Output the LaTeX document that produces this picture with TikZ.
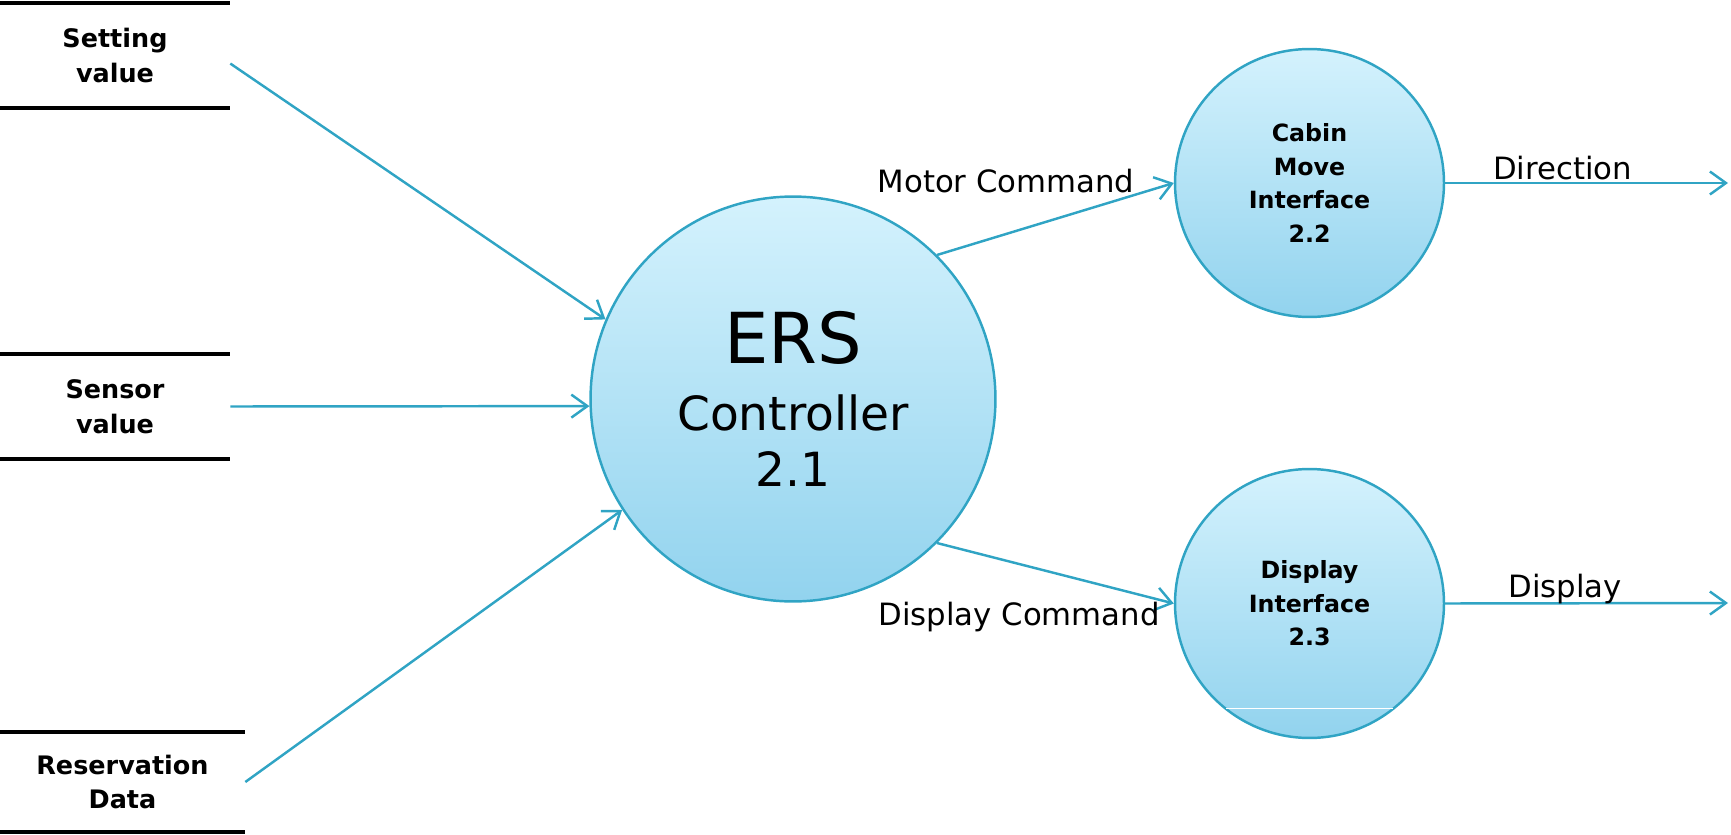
\documentclass[tikz,border=0pt]{standalone}
\usepackage{fontspec}
\setmainfont{DejaVu Sans}
\usetikzlibrary{arrows.meta,shapes.geometric}
\definecolor{flowblue}{RGB}{48,164,196}
\definecolor{proctop}{RGB}{212,242,253}
\definecolor{procbot}{RGB}{146,211,238}
\tikzset{
	proc/.style={ellipse, draw=flowblue, line width=1.4pt, top color=proctop, bottom color=procbot, inner sep=0pt, align=center},
	store/.style={inner sep=0pt, align=center, font=\fontsize{14.5}{19.9}\selectfont\bfseries},
	bar/.style={line width=2.3pt},
	flow/.style={draw=flowblue, line width=1.4pt, -{Straight Barb[length=0.32cm,width=0.46cm]}},
	flowlabel/.style={anchor=base, inner sep=0pt, font=\fontsize{17.5}{21}\selectfont}
}

\begin{document}
\begin{tikzpicture}[x=0.02cm, y=-0.02cm]
			%%%%% START %%%%%
			
			\useasboundingbox (0,0) rectangle (1731,835);
			
			\node[store, minimum width=4.6cm, minimum height=2.1cm] (setting) at (115,55.5) {Setting\\value};
			\draw[bar] (setting.north west) -- (setting.north east);
			\draw[bar] (setting.south west) -- (setting.south east);
			
			\node[store, minimum width=4.6cm, minimum height=2.1cm] (sensor) at (115,406.5) {Sensor\\value};
			\draw[bar] (sensor.north west) -- (sensor.north east);
			\draw[bar] (sensor.south west) -- (sensor.south east);
			
			\node[store, minimum width=4.9cm, minimum height=2.0cm] (resv) at (122.5,782) {Reservation\\Data};
			\draw[bar] (resv.north west) -- (resv.north east);
			\draw[bar] (resv.south west) -- (resv.south east);
			
			\node[proc, minimum width=8.1cm, minimum height=8.1cm, font=\fontsize{26.8}{32.4}\selectfont] (ers) at (793,399) {{\fontsize{40}{40}\selectfont ERS}\\[5.6pt]Controller\\2.1};
			\node[proc, minimum width=5.38cm, minimum height=5.36cm, font=\fontsize{13.5}{19}\selectfont\bfseries] (cabin) at (1309.5,183) {Cabin\\Move\\Interface\\2.2};
			\node[proc, minimum width=5.38cm, minimum height=5.38cm, font=\fontsize{13.5}{19}\selectfont\bfseries] (disp) at (1309.5,603.5) {Display\\Interface\\2.3};
			\draw[white, line width=0.5pt] (1226,708) -- (1393,708);
			
			\coordinate (dirEnd) at (1728,183);
			\coordinate (dispEnd) at (1728,603);
			
			\draw[flow] (setting.-4) -- (ers.157);
			\draw[flow] (sensor.east) -- (ers.182);
			\draw[flow] (resv.east) -- (ers.213);
			\draw[flow] (ers.45) -- (cabin.west);
			\draw[flow] (ers.-45) -- (disp.west);
			\draw[flow] (cabin.east) -- (dirEnd);
			\draw[flow] (disp.east) -- (dispEnd);
			
			\node[flowlabel] (motorlbl) at (1006,192) {Motor Command};
			\node[flowlabel] (dispcmdlbl) at (1019,625) {Display Command};
			\node[flowlabel] (dirlbl) at (1562.5,179) {Direction};
			\node[flowlabel] (displbl) at (1565,597) {Display};
			
			%%%%% END %%%%%
\end{tikzpicture}
\end{document}
